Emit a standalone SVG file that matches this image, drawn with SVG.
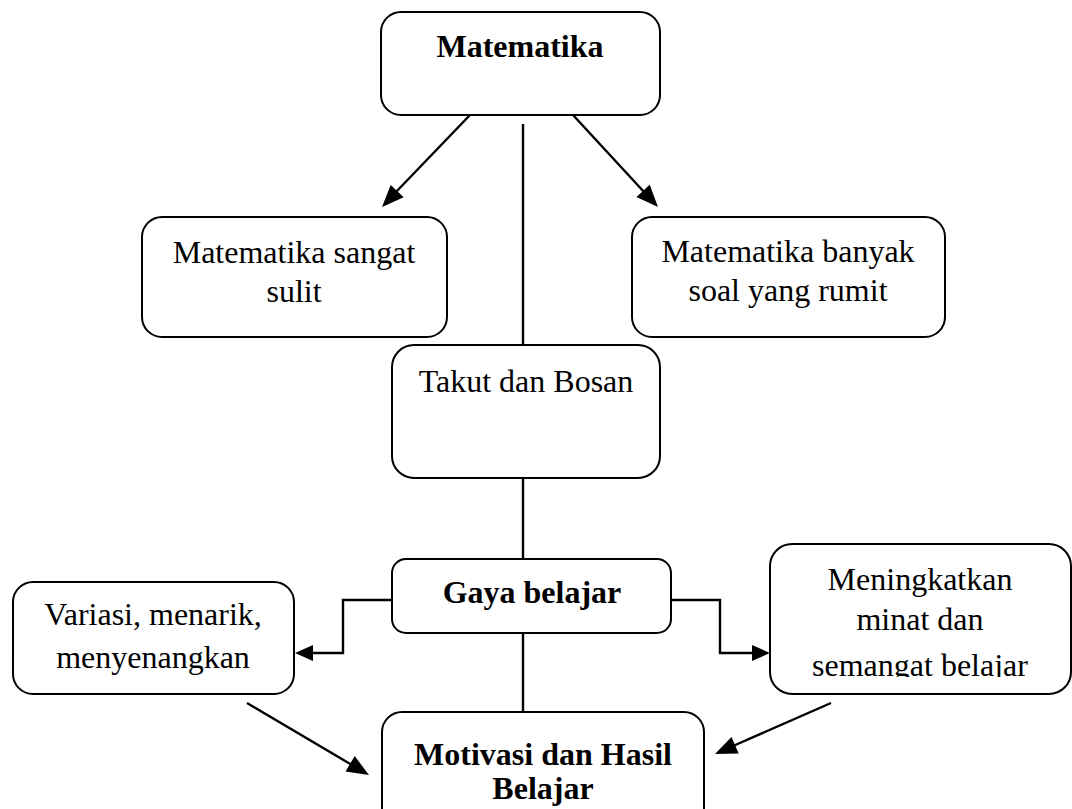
<svg xmlns="http://www.w3.org/2000/svg" width="1072" height="809" viewBox="0 0 1072 809">
<style>
.box{fill:#fff;stroke:#000;stroke-width:2}
.t{font-family:"Liberation Serif","Times New Roman",serif;font-size:32px;fill:#000;text-anchor:middle}
.b{font-weight:bold}
.c{fill:none;stroke:#000;stroke-width:2.4}
.ah{fill:#000}
</style>
<defs>
<clipPath id="clipM"><rect x="770" y="540" width="302" height="137"/></clipPath>
</defs>
<rect width="1072" height="809" fill="#fff"/>
<g id="connectors">
<line class="c" x1="523" y1="124" x2="523" y2="345"/>
<line class="c" x1="523" y1="478" x2="523" y2="559"/>
<line class="c" x1="523" y1="633" x2="523" y2="727"/>
<line class="c" x1="470" y1="115" x2="395" y2="193"/>
<polygon class="ah" points="382,207 403.7,197.3 390.7,184.9"/>
<line class="c" x1="573" y1="115" x2="645" y2="193"/>
<polygon class="ah" points="658,207 649.7,184.7 636.5,196.9"/>
<polyline class="c" points="392,600 343,600 343,653 312,653"/>
<polygon class="ah" points="295,653 313,645 313,661"/>
<polyline class="c" points="671,600 720,600 720,653 753,653"/>
<polygon class="ah" points="770,653 752,645 752,661"/>
<line class="c" x1="247" y1="703" x2="352" y2="765"/>
<polygon class="ah" points="369,775 345.5,771.5 354.7,756.1"/>
<line class="c" x1="831" y1="703" x2="733" y2="746"/>
<polygon class="ah" points="715,754 738.7,753.4 731.5,737"/>
</g>
<g id="n-matematika">
<rect class="box" x="381" y="12" width="279" height="103" rx="20"/>
<text class="t b" x="520" y="57">Matematika</text>
</g>
<g id="n-sulit">
<rect class="box" x="142" y="217" width="305" height="120" rx="20"/>
<text class="t" x="294" y="263">Matematika sangat</text>
<text class="t" x="294" y="302">sulit</text>
</g>
<g id="n-rumit">
<rect class="box" x="632" y="217" width="313" height="120" rx="20"/>
<text class="t" x="788" y="262">Matematika banyak</text>
<text class="t" x="788" y="301">soal yang rumit</text>
</g>
<g id="n-takut">
<rect class="box" x="392" y="345" width="268" height="133" rx="22"/>
<text class="t" x="526" y="392">Takut dan Bosan</text>
</g>
<g id="n-gaya">
<rect class="box" x="392" y="559" width="279" height="74" rx="14"/>
<text class="t b" x="532" y="603">Gaya belajar</text>
</g>
<g id="n-variasi">
<rect class="box" x="13" y="582" width="281" height="112" rx="20"/>
<text class="t" x="153" y="625">Variasi, menarik,</text>
<text class="t" x="153" y="668">menyenangkan</text>
</g>
<g id="n-meningkatkan">
<rect class="box" x="770" y="544" width="301" height="150" rx="22"/>
<text class="t" x="920" y="590">Meningkatkan</text>
<text class="t" x="920" y="630">minat dan</text>
<text class="t" x="920" y="676" clip-path="url(#clipM)">semangat belajar</text>
</g>
<g id="n-motivasi">
<rect class="box" x="382" y="712" width="322" height="120" rx="20"/>
<text class="t b" x="543" y="765">Motivasi dan Hasil</text>
<text class="t b" x="543" y="799">Belajar</text>
</g>
</svg>
